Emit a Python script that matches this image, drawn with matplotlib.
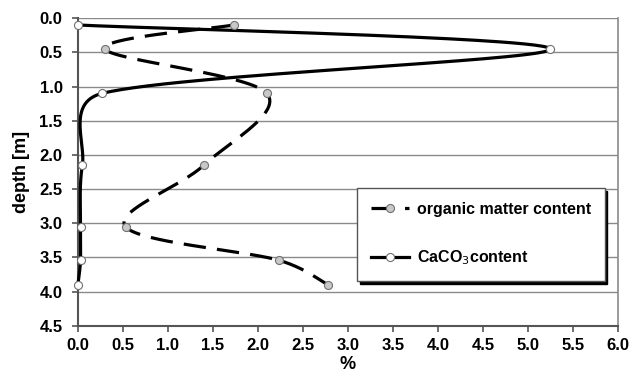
import numpy as np
import matplotlib
matplotlib.use("Agg")
import matplotlib.pyplot as plt
from matplotlib.lines import Line2D

plt.rcParams['font.family'] = ['Liberation Sans', 'DejaVu Sans']

depth = [0.1, 0.45, 1.1, 2.15, 3.05, 3.54, 3.9]
organic = [1.73, 0.30, 2.10, 1.40, 0.53, 2.23, 2.78]
caco3 = [0.0, 5.25, 0.27, 0.05, 0.03, 0.03, 0.0]

x_ticks = [0.0, 0.5, 1.0, 1.5, 2.0, 2.5, 3.0, 3.5, 4.0, 4.5, 5.0, 5.5, 6.0]
y_ticks = [0.0, 0.5, 1.0, 1.5, 2.0, 2.5, 3.0, 3.5, 4.0, 4.5]


def smooth(xs, ys, sx=1.0, sy=1.0, k=0.5, n=60):
    # Excel-like smoothed line: cubic Bezier, tension 1/6, control offset clamped
    p = np.column_stack([np.asarray(xs, float) * sx, np.asarray(ys, float) * sy])
    m = len(p)

    def offset(i, seg_len):
        a = p[max(i - 1, 0)]
        b = p[min(i + 1, m - 1)]
        v = (b - a) / 6.0
        L = np.linalg.norm(v)
        lim = k * seg_len
        if L > lim and L > 0:
            v = v * lim / L
        return v

    out = [p[:1]]
    for i in range(m - 1):
        p1, p2 = p[i], p[i + 1]
        dl = np.linalg.norm(p2 - p1)
        c1 = p1 + offset(i, dl)
        c2 = p2 - offset(i + 1, dl)
        t = np.linspace(0, 1, n)[1:, None]
        seg = (1 - t) ** 3 * p1 + 3 * (1 - t) ** 2 * t * c1 + 3 * (1 - t) * t ** 2 * c2 + t ** 3 * p2
        out.append(seg)
    out = np.vstack(out)
    return out[:, 0] / sx, out[:, 1] / sy


fig = plt.figure(figsize=(6.33, 3.78), dpi=100)
ax = fig.add_axes([0.123, 0.138, 0.853, 0.814])

for y in y_ticks[:-1]:
    ax.axhline(y, color='#8a8a8a', lw=1.0, zorder=1)

sx, sy = 90.0, 68.4
ox, oy = smooth(organic, depth, sx, sy)
cx, cy = smooth(caco3, depth, sx, sy)
ax.plot(ox, oy, color='black', lw=2.3, dashes=(7, 3.5), zorder=3)
ax.plot(cx, cy, color='black', lw=2.3, zorder=3, clip_on=False)
ax.plot(organic, depth, 'o', ms=5.8, mfc='#c8c8c8', mec='#707070', mew=0.8, zorder=4)
ax.plot(caco3, depth, 'o', ms=5.8, mfc='white', mec='#707070', mew=0.8, zorder=4, clip_on=False)

ax.set_xlim(0, 6)
ax.set_ylim(4.5, 0)
ax.set_xticks(x_ticks)
ax.set_yticks(y_ticks)
ax.set_xticklabels([f"{v:.1f}" for v in x_ticks], fontweight='bold', fontsize=12)
ax.set_yticklabels([f"{v:.1f}" for v in y_ticks], fontweight='bold', fontsize=12)
ax.tick_params(axis='both', direction='out', length=4, color='#555555', width=1.2)
ax.tick_params(axis='x', pad=5)
ax.tick_params(axis='y', pad=7)

ax.spines['top'].set_visible(False)
ax.spines['right'].set_color('#8a8a8a')
ax.spines['right'].set_linewidth(1.2)
ax.spines['left'].set_color('#555555')
ax.spines['left'].set_linewidth(1.5)
ax.spines['bottom'].set_color('#555555')
ax.spines['bottom'].set_linewidth(1.5)

ax.set_xlabel('%', fontweight='bold', fontsize=13, labelpad=2)
ax.set_ylabel('depth [m]', fontweight='bold', fontsize=13, labelpad=7)

handles = [
    Line2D([0], [0], color='black', lw=2.3, dashes=(7, 3.5), marker='o', ms=5.8,
           mfc='#c8c8c8', mec='#707070', mew=0.8),
    Line2D([0], [0], color='black', lw=2.3, marker='o', ms=5.8,
           mfc='white', mec='#707070', mew=0.8),
]
labels = ['organic matter content', 'CaCO$_3$content']
leg = ax.legend(handles, labels, loc='upper left', bbox_to_anchor=(0.517, 0.448),
                frameon=True, fancybox=False,
                shadow={'color': 'black', 'alpha': 1.0},
                prop={'weight': 'bold', 'size': 11.5}, labelspacing=2.0,
                borderpad=0.85, handlelength=2.4, handletextpad=0.5,
                borderaxespad=0)
leg.get_frame().set_edgecolor('#555555')
leg.get_frame().set_linewidth(1.0)
leg.set_zorder(5)

fig.savefig('out.png', dpi=100)
